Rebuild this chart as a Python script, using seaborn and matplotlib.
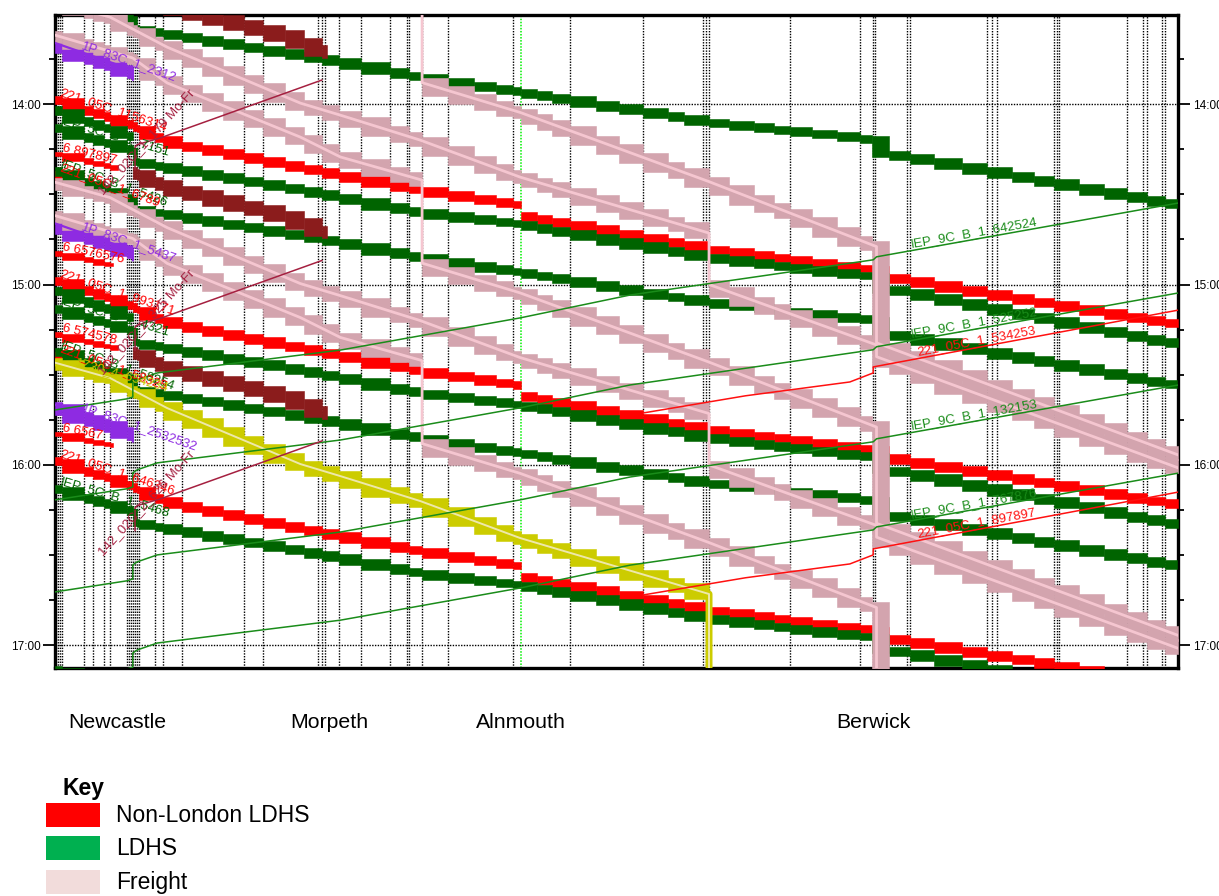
import numpy as np
import pandas as pd
import matplotlib
matplotlib.use("Agg")
import matplotlib.pyplot as plt
from matplotlib.patches import Rectangle
import seaborn as sns

sns.set_theme(style="white")
plt.rcParams["font.family"] = ["Liberation Sans", "DejaVu Sans"]
plt.rcParams["text.color"] = "black"

# ---------------------------------------------------------------- data
# distance axis: miles from Newcastle; time axis: minutes after midnight
station_names = ["Newcastle", "Morpeth", "Alnmouth", "Berwick"]
station_label_miles = [-1.6, 17.5, 34.8, 66.5]

timing_points = [-7.12, -6.94, -6.76, -6.58, -4.59, -3.78, -2.79, -2.25, -0.72, -0.54,
                 -0.36, -0.18, 0.0, 0.18, 0.36, 1.80, 2.52, 4.23, 9.82, 11.53, 16.49,
                 16.85, 17.12, 18.38, 20.36, 22.97, 24.50, 24.68, 25.86, 28.20, 34.05,
                 39.19, 45.77, 51.17, 51.44, 51.71, 59.01, 65.32, 66.49, 66.67, 69.55,
                 69.82, 76.76, 77.21, 77.66, 82.79, 83.06, 83.24, 89.37, 90.81, 91.17,
                 92.52, 92.79]
alnmouth_mile = 34.77

signals = [-7.2, -6.6, -4.6, -3.8, -2.8, -2.25, -0.72, -0.18, 0.18, 0.36, 1.8, 2.52,
           4.23, 6.0, 7.9, 9.82, 11.53, 13.5, 15.2, 16.85, 18.38, 20.36, 22.97, 24.68,
           25.86, 28.2, 30.5, 32.5, 34.05, 34.77, 36.2, 37.6, 39.19, 41.5, 43.6, 45.77,
           48.0, 49.5, 51.71, 53.5, 55.8, 57.6, 59.01, 61.0, 63.2, 65.32, 66.4, 67.9,
           69.82, 72.0, 74.5, 76.76, 79.0, 81.0, 82.79, 85.0, 87.3, 89.37, 91.17, 92.79,
           94.0]

hour_ticks = [840, 900, 960, 1020]
hour_labels = ["14:00", "15:00", "16:00", "17:00"]
quarter_ticks = [825, 855, 870, 885, 915, 930, 945, 975, 990, 1005]

# --- northbound services (mile knots, minute offsets from start, start minutes)
ra_miles = [-7.2, -0.2, 0.45, 3.15, 14.9, 25.7, 34.77, 34.77, 51.8, 66.5, 67.1, 94.0]
ra_offsets = [0, 8.6, 10.3, 14.3, 22.6, 30.2, 35.2, 38.5, 49.8, 56.5, 58.5, 74.8]
ra_starts = [837.7, 897.7, 957.7]
ra_labels = ["221_05C_1156314", "221_05C_1_993171", "221_05C_1_646346"]

gb_miles = [-7.2, -0.2, 0.2, 14.9, 25.7, 34.77, 51.8, 64.4, 66.5, 66.5, 69.8, 94.0]
gb_offsets = [0, 7.6, 11.6, 20.6, 28.2, 32.2, 43.2, 48.8, 49.5, 53.2, 54.8, 72.1]
gb_starts = [847.0, 907.0, 967.0, 1027.0]
gb_labels = ["IEP_5C_B_1_7151", "IEP_5C_B_1_4321", "IEP_5C_B_1_5468", ""]

gc_miles = [-7.2, -0.2, 0.2, 14.9, 18.5, 25.7, 34.77, 51.8, 64.4, 66.5, 66.5, 69.8, 93.9]
gc_offsets = [0, 9.6, 12.9, 21.6, 23.9, 28.9, 33.9, 43.9, 48.8, 49.8, 53.8, 55.5, 71.4]
gc_starts = [801.3, 861.3, 921.3]
gc_labels = ["", "IEP_5C_B_1_5426", "IEP_5C_B_1_58254"]

ga_miles = [-7.2, -0.2]
ga_offsets = [0, 9.3]
ga_starts = [841.0, 901.0]

rb_miles = [-7.2, -1.5]
rb_offsets = [0, 5.0]
rb_starts = [856.0, 916.0]
rb_labels = ["6 897897", "6 574578"]

rc_miles = [-7.2, -0.2]
rc_offsets = [0, 9.3]
rc_starts = [862.6, 922.6]
rc_labels = ["221_05C_1_6789", "221_05C_1_58325"]

rd_miles = [-7.2, -2.0]
rd_offsets = [0, 4.0]
rd_starts = [889.2, 949.2]
rd_labels = ["6 6576576", "6 6567"]

pu_miles = [-7.2, -0.2, -0.2]
pu_offsets = [0, 9.0, 12.3]
pu_starts = [819.7, 879.7, 940.0]
pu_labels = ["1P_83C_1_2312", "1P_83C_1_5437", "1P_83C_1_2532532"]

br_miles = [-0.2, 2.9, 13.3, 17.3]
br_offsets = [0, 5.0, 14.3, 20.3]
br_starts = [801.9, 861.9, 921.9]

f1_miles = [-7.2, -0.2, 2.9, 14.9, 18.5, 25.86, 25.86, 34.7, 41.9, 51.71, 66.8, 66.8, 94.0]
f1_offsets = [0, 7.6, 15.9, 33.9, 40.5, 48.2, 75.8, 85.7, 95.4, 108.7, 130.3, 162.3, 199.6]
f1_starts = [757.1, 817.1, 877.1]

f2_miles = [-7.2, -2.25, 2.9, 14.9, 18.5, 25.7, 34.7, 51.71, 51.71, 66.8, 66.8, 94.0]
f2_offsets = [0, 5.1, 15.1, 33.7, 37.7, 46.0, 58.3, 76.9, 94.0, 114.1, 118.0, 155.0]
f2_starts = [806.0, 866.0]

yl_miles = [-7.2, -2.25, 2.9, 14.9, 18.5, 25.7, 34.7, 51.71, 51.71]
yl_offsets = [0, 5.1, 15.1, 33.7, 37.7, 46.0, 58.3, 76.9, 130.0]
yl_starts = [926.0]
yl_labels = ["1Z30_4_654234"]

# --- southbound services
iep_miles = [94.0, 66.8, 66.5, 44.6, 34.7, 18.5, 2.0, 0.2, -0.2, -0.2, -0.7, -7.2]
iep_offsets = [0, 17.9, 18.9, 30.6, 38.2, 48.9, 56.5, 58.8, 59.8, 64.5, 65.1, 68.8]
iep_starts = [872.9, 902.8, 933.4, 962.7]
iep_labels = ["IEP_9C_B_1_642524", "IEP_9C_B_1_525252", "IEP_9C_B_1_132153",
              "IEP_9C_B_1_767876"]

sr_miles = [94.0, 66.5, 66.5, 64.4, 55.0, 45.8]
sr_offsets = [0, 18.9, 20.9, 23.9, 28.5, 34.2]
sr_starts = [908.5, 969.0]
sr_labels = ["221_05C_1_534253", "221_05C_1_897897"]

bt_miles = [16.85, 2.25, 0.2, 0.0, 0.0]
bt_offsets = [0, 19.3, 21.5, 22.3, 29.9]
bt_starts = [832.0, 892.0, 952.0]
bt_labels = ["142_02C_1_179 Mo-Fr", "142_02C_2_325 Mo-Fr", "142_02C_2_626 Mo-Fr"]

legend_labels = ["Non-London LDHS", "LDHS", "Freight"]
legend_colors = ["#FF0000", "#00B050", "#F2DCDB"]

# ---------------------------------------------------------------- styles
GREEN = "#006400"
RED = "#FF0000"
FREIGHT = "#D3A4AE"
FREIGHT_LINE = "#F5C6D0"
BROWN = "#8B1C1C"
PURPLE = "#8E2BE2"
YELLOW = "#CCCC00"
YELLOW_LINE = "#EEE8AA"
THIN_GREEN = "#1A8C1A"
THIN_RED = "#FF1010"
THIN_BROWN = "#A52040"

W, H = 1219, 896
fig = plt.figure(figsize=(W / 100, H / 100), dpi=100)
ax = fig.add_axes([55 / W, 1 - 668 / H, 1123 / W, 653 / H])
XLIM = (-7.21, 93.96)
YLIM = (1027.5, 810.4)
ax.set_xlim(*XLIM)
ax.set_ylim(*YLIM)

# grid
DOT = (0, (1, 1))
for m in timing_points:
    ax.axvline(m, color="black", lw=1.0, ls=DOT, zorder=1)
ax.axvline(alnmouth_mile, color="#00F000", lw=1.1, ls=DOT, zorder=1)
for h in hour_ticks:
    ax.axhline(h, color="black", lw=1.0, ls=DOT, zorder=1)


def knots(m, t):
    ux = np.unique(m)
    tf = np.array([t[m == u].min() for u in ux])
    tl = np.array([t[m == u].max() for u in ux])
    return ux, tf, tl


def pass_time(x, ux, tf, tl, first=True, north=True):
    i = int(np.searchsorted(ux, x))
    if i < len(ux) and abs(ux[i] - x) < 1e-9:
        return tf[i] if first else tl[i]
    i = min(max(i, 1), len(ux) - 1)
    x0, x1 = ux[i - 1], ux[i]
    if north:
        t0, t1 = tl[i - 1], tf[i]
    else:
        t0, t1 = tf[i - 1], tl[i]
    return t0 + (t1 - t0) * (x - x0) / (x1 - x0)


def draw_band(m, t, color, pre, post, z):
    ux, tf, tl = knots(m, t)
    edges = sorted({ux[0], ux[-1], *[s for s in signals if ux[0] < s < ux[-1]]})
    for a, b in zip(edges[:-1], edges[1:]):
        top = pass_time(a, ux, tf, tl, first=False) - pre
        bot = pass_time(b, ux, tf, tl, first=True) + post
        ax.fill_between([a, b], top, bot, color=color, edgecolor=color, lw=0.4, zorder=z)


def line_label(m, t, at, text, color, north=True, size=9.5, rot=None, ha="left", va="bottom"):
    if not text:
        return
    ux, tf, tl = knots(m, t)
    t0 = pass_time(at, ux, tf, tl, True, north)
    t1 = pass_time(at + 1.5, ux, tf, tl, True, north)
    p0 = ax.transData.transform((at, t0))
    p1 = ax.transData.transform((at + 1.5, t1))
    ang = np.degrees(np.arctan2(p1[1] - p0[1], p1[0] - p0[0])) if rot is None else rot
    ax.text(at, t0, text, color=color, fontsize=size, rotation=ang,
            rotation_mode="anchor", ha=ha, va=va, zorder=8, clip_on=True)


def paths(miles, offsets, starts):
    return [(np.asarray(miles, float), s + np.asarray(offsets, float)) for s in starts]


rows = []


def add_rows(kind, miles, offsets, starts):
    for k, s in enumerate(starts):
        for mm, oo in zip(miles, offsets):
            rows.append((kind, f"{kind}{k}", mm, s + oo))


# passenger bands
for m, t in paths(ra_miles, ra_offsets, ra_starts):
    draw_band(m, t, RED, 0.3, 1.7, 3)
for m, t in paths(rc_miles, rc_offsets, rc_starts):
    draw_band(m, t, RED, 0.3, 1.7, 3)
for m, t in paths(rb_miles, rb_offsets, rb_starts):
    draw_band(m, t, RED, 0.2, 0.8, 3)
for m, t in paths(rd_miles, rd_offsets, rd_starts):
    draw_band(m, t, RED, 0.2, 0.8, 3)
for m, t in paths(gb_miles, gb_offsets, gb_starts):
    draw_band(m, t, GREEN, 0.3, 1.8, 3)
for m, t in paths(gc_miles, gc_offsets, gc_starts):
    draw_band(m, t, GREEN, 0.3, 1.8, 3)
for m, t in paths(ga_miles, ga_offsets, ga_starts):
    draw_band(m, t, GREEN, 0.3, 1.8, 3)
for m, t in paths(pu_miles, pu_offsets, pu_starts):
    draw_band(m, t, PURPLE, 1.0, 2.6, 3)
for m, t in paths(br_miles, br_offsets, br_starts):
    draw_band(m, t, BROWN, 1.0, 2.4, 3)
# freight bands
for m, t in paths(f1_miles, f1_offsets, f1_starts) + paths(f2_miles, f2_offsets, f2_starts):
    draw_band(m, t, FREIGHT, 1.4, 1.8, 4)
for m, t in paths(yl_miles, yl_offsets, yl_starts):
    draw_band(m, t, YELLOW, 1.4, 1.8, 4)

add_rows("yellowbody", yl_miles, yl_offsets, yl_starts)
add_rows("freight", f1_miles, f1_offsets, f1_starts)
add_rows("freight2", f2_miles, f2_offsets, f2_starts)
add_rows("yellow", yl_miles, yl_offsets, yl_starts)
add_rows("purple", pu_miles, pu_offsets, pu_starts)
add_rows("iep", iep_miles, iep_offsets, iep_starts)
add_rows("sred", sr_miles, sr_offsets, sr_starts)
add_rows("brown", bt_miles, bt_offsets, bt_starts)
df = pd.DataFrame(rows, columns=["kind", "train", "mile", "minute"])

line_styles = {
    "yellowbody": (YELLOW, 5.0),
    "freight": (FREIGHT_LINE, 2.0), "freight2": (FREIGHT_LINE, 2.0),
    "yellow": (YELLOW_LINE, 1.4), "purple": (PURPLE, 1.6),
    "iep": (THIN_GREEN, 1.1), "sred": (THIN_RED, 1.1), "brown": (THIN_BROWN, 1.1),
}
for kind, (col, lw) in line_styles.items():
    sub = df[df["kind"] == kind]
    sns.lineplot(data=sub, x="mile", y="minute", units="train", estimator=None,
                 sort=False, color=col, lw=lw, legend=False, ax=ax, zorder=6)

ax.set_xlim(*XLIM)
ax.set_ylim(*YLIM)
ax.set_xlabel("")
ax.set_ylabel("")

# labels along lines
for (m, t), txt in zip(paths(iep_miles, iep_offsets, iep_starts), iep_labels):
    line_label(m, t, 70.0, txt, THIN_GREEN, north=False, size=9.5)
for (m, t), txt in zip(paths(sr_miles, sr_offsets, sr_starts), sr_labels):
    line_label(m, t, 70.6, txt, THIN_RED, north=False, size=9.5)
for (m, t), txt in zip(paths(ra_miles, ra_offsets, ra_starts), ra_labels):
    line_label(m, t, -6.9, txt, RED, size=9.5)
for (m, t), txt in zip(paths(gb_miles, gb_offsets, gb_starts), gb_labels):
    line_label(m, t, -6.9, txt, GREEN, size=9.5)
for (m, t), txt in zip(paths(gc_miles, gc_offsets, gc_starts), gc_labels):
    line_label(m, t, -6.9, txt, GREEN, size=9.5)
for (m, t), txt in zip(paths(rb_miles, rb_offsets, rb_starts), rb_labels):
    line_label(m, t, -6.6, txt, RED, size=9.5)
for (m, t), txt in zip(paths(rc_miles, rc_offsets, rc_starts), rc_labels):
    line_label(m, t, -6.9, txt, RED, size=9.5)
for (m, t), txt in zip(paths(rd_miles, rd_offsets, rd_starts), rd_labels):
    line_label(m, t, -6.6, txt, RED, size=9.5)
for (m, t), txt in zip(paths(pu_miles, pu_offsets, pu_starts), pu_labels):
    line_label(m, t, -5.0, txt, PURPLE, size=9.5)
for (m, t), txt in zip(paths(yl_miles, yl_offsets, yl_starts), yl_labels):
    line_label(m, t, -5.5, txt, "#C8C800", size=9.5)
for (m, t), txt in zip(paths(bt_miles, bt_offsets, bt_starts), bt_labels):
    line_label(m, t, 1.0, txt, THIN_BROWN, north=False, size=9.5, rot=48,
               ha="center", va="center")

# axes styling
for sp in ax.spines.values():
    sp.set_color("black")
    sp.set_linewidth(2.4)
ax.set_xticks([])
ax.set_yticks(hour_ticks)
ax.set_yticklabels(hour_labels)
ax.set_yticks(quarter_ticks, minor=True)
ax.tick_params(axis="y", which="both", left=True, right=True, labelleft=True,
               labelright=True, direction="out", colors="black", labelsize=8.5)
ax.tick_params(axis="y", which="major", length=8.5, width=1.3, pad=2)
ax.tick_params(axis="y", which="minor", length=4.5, width=1.3)

# station names under the axis
for name, mile in zip(station_names, station_label_miles):
    ax.text(mile, -0.083, name, transform=ax.get_xaxis_transform(), ha="center",
            va="center", fontsize=15.3, color="black", clip_on=False)

# key
fig.text(63 / W, 1 - 788 / H, "Key", fontsize=16.5, fontweight="bold", va="center",
         ha="left", color="black")
row_tops = [803, 836, 870]
for lab, col, top in zip(legend_labels, legend_colors, row_tops):
    fig.add_artist(Rectangle((46 / W, 1 - (top + 24) / H), 54 / W, 24 / H,
                             transform=fig.transFigure, color=col, lw=0))
    fig.text(116 / W, 1 - (top + 12) / H, lab, fontsize=16.5, va="center", ha="left",
             color="black")

fig.savefig("out.png", dpi=100)
